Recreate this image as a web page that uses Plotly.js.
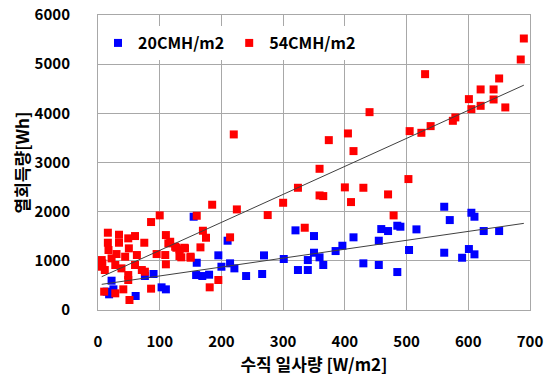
<!DOCTYPE html>
<html>
<head>
<meta charset="utf-8">
<script src="https://cdn.plot.ly/plotly-3.0.1.min.js"></script>
<style>html,body{margin:0;padding:0;background:#fff;}#chart{width:548px;height:376px;}</style>
</head>
<body>
<div id="chart"></div>
<script>
// Series names
const seriesNames = ["20CMH/m2", "54CMH/m2"];

// 20CMH/m2 (blue)
const blueX = [14, 18, 22, 22, 25, 61, 76, 90, 103, 110, 155, 159, 169, 180, 160, 195, 200, 210, 214, 221,
  240, 266, 269, 301, 320, 324, 340, 340, 350, 350, 359, 365, 385, 396, 414, 430, 455, 455, 459, 470,
  485, 490, 485, 504, 516, 561, 570, 561, 590, 601, 605, 610, 610, 625, 650];
const blueY = [373, 319, 352, 596, 420, 285, 691, 732, 461, 420, 1897, 711, 691, 718, 961, 1112, 880, 1409, 949, 847,
  691, 732, 1111, 1037, 1620, 813, 813, 1016, 1504, 1165, 1071, 915, 1199, 1307, 1478, 949, 1409, 915, 1646, 1606,
  1714, 1694, 772, 1220, 1640, 2100, 1829, 1165, 1063, 1240, 1978, 1897, 1132, 1606, 1606];

// 54CMH/m2 (red)
const redX = [16, 34, 49, 60, 75, 16, 34, 50, 17, 30, 6, 22, 44, 63, 95, 109, 7, 4, 11, 28,
  38, 60, 71, 110, 76, 49, 49, 41, 10, 28, 51, 86, 86, 100, 110,
  114, 127, 140, 132, 150, 117, 125, 132, 141, 135, 150, 166, 170, 175, 160, 185, 214, 225, 195, 181, 220,
  275, 300, 324, 335, 359, 359, 365, 374, 400, 405, 410, 414, 430, 440, 470, 479, 503, 505, 524, 530,
  539, 575, 579, 601, 605, 620, 620, 641, 641, 650, 660, 685, 690];
const redY = [1572, 1531, 1457, 1504, 1368, 1368, 1368, 1254, 1220, 1138, 1016, 1050, 1084, 1118, 1138, 1118, 949, 880, 813, 915,
  847, 915, 813, 929, 779, 711, 610, 420, 373, 339, 203, 434, 1789, 1924, 1524,
  1355, 1266, 1266, 1097, 1084, 1388, 1287, 1234, 1254, 1071, 1063, 1274, 1612, 1470, 1917, 2141, 1478, 2046, 610, 461, 3571,
  1931, 2181, 2486, 1673, 2872, 2330, 2317, 3455, 2494, 3591, 2195, 3232, 2486, 4024, 2351, 1924, 2663, 3638, 3604, 4797,
  3740, 3848, 3917, 4289, 4085, 4486, 4153, 4486, 4282, 4709, 4120, 5095, 5522];

// Trend lines (endpoints)
const trendX = [6, 690];
const trendBlueY = [522, 1762];
const trendRedY = [677, 4573];

// Tick labels
const xTicks = [0, 100, 200, 300, 400, 500, 600, 700];
const yTicks = [0, 1000, 2000, 3000, 4000, 5000, 6000];

const fam = '"Noto Sans CJK KR", "Noto Sans", sans-serif';
const boldFont = {family: fam, size: 15, color: '#000', weight: 'bold'};

const traces = [
  {x: blueX, y: blueY, type: 'scatter', mode: 'markers', name: seriesNames[0],
   marker: {symbol: 'square', size: 8, color: '#0000ff'}},
  {x: redX, y: redY, type: 'scatter', mode: 'markers', name: seriesNames[1],
   marker: {symbol: 'square', size: 8, color: '#ff0000'}},
  {x: trendX, y: trendBlueY, type: 'scatter', mode: 'lines', showlegend: false,
   line: {color: '#404040', width: 1}},
  {x: trendX, y: trendRedY, type: 'scatter', mode: 'lines', showlegend: false,
   line: {color: '#404040', width: 1}}
];

const axisCommon = {
  showgrid: true, gridcolor: '#a8a8a8', gridwidth: 1,
  showline: true, linecolor: '#a8a8a8', linewidth: 1, mirror: true,
  zeroline: false, ticks: '', tickfont: boldFont
};

const layout = {
  width: 548, height: 376,
  margin: {l: 98, r: 18, t: 15, b: 66},
  paper_bgcolor: '#fff', plot_bgcolor: '#fff',
  showlegend: true,
  legend: {orientation: 'h', x: 0.0, y: 0.905, xanchor: 'left', yanchor: 'middle',
    bgcolor: '#fff', font: {family: fam, size: 16, color: '#000', weight: 'bold'},
    itemwidth: 30, tracegroupgap: 0},
  xaxis: Object.assign({}, axisCommon, {range: [0, 700], tickvals: xTicks, ticklabelstandoff: 18,
    title: {text: '수직 일사량 [W/m2]', standoff: 6, font: {family: fam, size: 17, color: '#000', weight: 'bold'}}}),
  yaxis: Object.assign({}, axisCommon, {range: [0, 6000], tickvals: yTicks, ticklabelstandoff: 24,
    title: {text: '열회득량[Wh]', standoff: 0, font: {family: fam, size: 17, color: '#000', weight: 'bold'}}})
};

Plotly.newPlot('chart', traces, layout, {displayModeBar: false, staticPlot: true});
</script>
</body>
</html>
